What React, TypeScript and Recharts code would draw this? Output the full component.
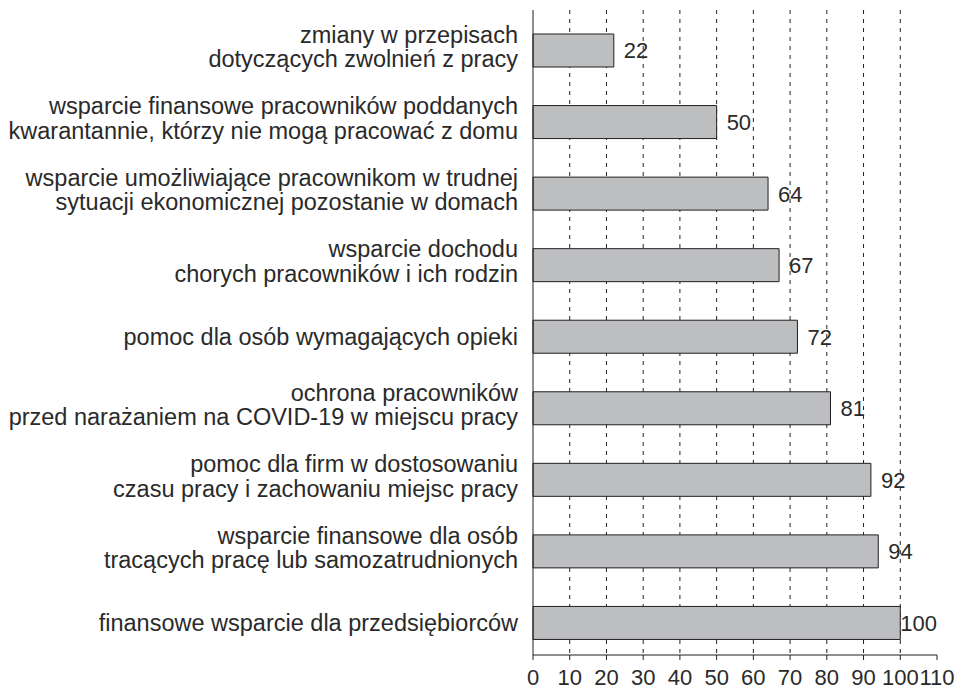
import React from "react";
import { BarChart, Bar, XAxis, YAxis, CartesianGrid, LabelList } from "recharts";

const categories = [
  "zmiany w przepisach\ndotyczących zwolnień z pracy",
  "wsparcie finansowe pracowników poddanych\nkwarantannie, którzy nie mogą pracować z domu",
  "wsparcie umożliwiające pracownikom w trudnej\nsytuacji ekonomicznej pozostanie w domach",
  "wsparcie dochodu\nchorych pracowników i ich rodzin",
  "pomoc dla osób wymagających opieki",
  "ochrona pracowników\nprzed narażaniem na COVID-19 w miejscu pracy",
  "pomoc dla firm w dostosowaniu\nczasu pracy i zachowaniu miejsc pracy",
  "wsparcie finansowe dla osób\ntracących pracę lub samozatrudnionych",
  "finansowe wsparcie dla przedsiębiorców",
];
const values = [22, 50, 64, 67, 72, 81, 92, 94, 100];
const xTicks = [0, 10, 20, 30, 40, 50, 60, 70, 80, 90, 100, 110];

const data = categories.map((name, i) => ({ name, value: values[i] }));

const INK = "#231f20";
const TEXT = "#2a2a2a";
const FONT = "'Liberation Sans', Arial, sans-serif";
const FS = 22;
const CAT_FS = 23.5;
const PLOT_RIGHT = 929;

function CategoryTick(props: any) {
  const { x, y, payload } = props;
  const lines: string[] = String(payload.value).split("\n");
  const lh = 24.5;
  const shift = lines.length > 1 ? -4 : 0;
  const start = y + shift - ((lines.length - 1) * lh) / 2;
  return (
    <text x={x} y={start} textAnchor="end" fill={TEXT} fontSize={CAT_FS} fontFamily={FONT}>
      {lines.map((l, i) => (
        <tspan key={i} x={x} y={start + i * lh} dy="0.35em">
          {l}
        </tspan>
      ))}
    </text>
  );
}

function ValueLabel(props: any) {
  const { x, y, width, height, value } = props;
  const tw = String(value).length * FS * 0.556;
  let lx = x + width + 10;
  if (lx + tw > PLOT_RIGHT) lx = PLOT_RIGHT - tw;
  return (
    <text x={lx} y={y + height / 2} dy="0.36em" fill={TEXT} fontSize={FS} fontFamily={FONT}>
      {value}
    </text>
  );
}

export default function App() {
  return (
    <div style={{ width: 948, height: 683, fontFamily: FONT }}>
      <BarChart
        width={948}
        height={683}
        data={data}
        layout="vertical"
        margin={{ top: 2, right: 19, bottom: 0, left: 0 }}
      >
        <CartesianGrid
          horizontal={false}
          vertical
          stroke={INK}
          strokeDasharray="4 5"
          verticalCoordinatesGenerator={(p: any) => {
            const { offset } = p;
            return xTicks
              .filter((t) => t > 0 && t < 110)
              .map((t) => offset.left + (t / 110) * offset.width);
          }}
        />
        <XAxis
          type="number"
          domain={[0, 110]}
          ticks={xTicks}
          interval={0}
          height={36}
          tickSize={5}
          tickMargin={9}
          stroke={INK}
          axisLine={{ stroke: INK }}
          tickLine={{ stroke: INK }}
          tick={{ fill: TEXT, fontSize: FS, fontFamily: FONT }}
        />
        <XAxis
          xAxisId="top"
          orientation="top"
          type="number"
          domain={[0, 110]}
          height={0}
          tick={false}
          tickLine={false}
          axisLine={{ stroke: INK }}
        />
        <YAxis
          type="category"
          dataKey="name"
          width={525}
          tickLine={false}
          tickSize={0}
          tickMargin={15}
          interval={0}
          padding={{ top: 5, bottom: -4 }}
          axisLine={{ stroke: INK }}
          tick={<CategoryTick />}
        />
        <YAxis
          yAxisId="right"
          orientation="right"
          type="number"
          domain={[0, 1]}
          width={0}
          tick={false}
          tickLine={false}
          axisLine={{ stroke: INK }}
        />
        <Bar
          dataKey="value"
          fill="#bdbec0"
          stroke={INK}
          strokeWidth={1}
          barSize={33}
          isAnimationActive={false}
        >
          <LabelList dataKey="value" content={<ValueLabel />} />
        </Bar>
      </BarChart>
    </div>
  );
}
